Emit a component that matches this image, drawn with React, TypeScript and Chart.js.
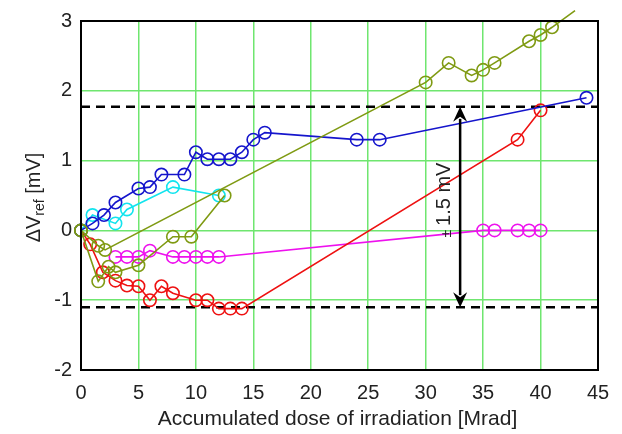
import React, { useEffect, useRef } from "react";
import { Chart, registerables } from "chart.js";

Chart.register(...registerables);

// ---- data ----
const blueX = [0, 1, 2, 3, 5, 6, 7, 9, 10, 11, 12, 13, 14, 15, 16, 24, 26, 44];
const blueY = [0, 0.1, 0.22, 0.4, 0.6, 0.62, 0.8, 0.8, 1.12, 1.02, 1.02, 1.02, 1.12, 1.3, 1.4, 1.3, 1.3, 1.9];

const cyanX = [0, 1, 3, 4, 8, 12];
const cyanY = [0, 0.22, 0.1, 0.3, 0.62, 0.5];

const oliveAX = [0, 1.5, 2.4, 3, 5, 8, 9.6, 12.5];
const oliveAY = [0, -0.73, -0.52, -0.6, -0.5, -0.09, -0.09, 0.5];

const oliveBX = [0, 1.5, 2.1, 30, 32, 34, 35, 36, 39, 40, 41, 43];
const oliveBY = [0, -0.22, -0.28, 2.12, 2.4, 2.22, 2.3, 2.4, 2.71, 2.8, 2.91, 3.15];

const magentaX = [3, 4, 5, 6, 8, 9, 10, 11, 12, 35, 36, 38, 39, 40];
const magentaY = [-0.38, -0.38, -0.38, -0.29, -0.38, -0.38, -0.38, -0.38, -0.38, 0, 0, 0, 0, 0];

const redX = [0, 0.8, 1.9, 3, 4, 5, 6, 7, 8, 10, 11, 12, 13, 14, 38, 40];
const redY = [0, -0.2, -0.6, -0.72, -0.79, -0.8, -1.0, -0.8, -0.9, -1.0, -1.0, -1.12, -1.12, -1.12, 1.3, 1.72];

const limitUpper = 1.77;
const limitLower = -1.1;
const arrowX = 33;
const arrowLabel = "1.5 mV";

const xMin = 0;
const xMax = 45;
const yMin = -2;
const yMax = 3;

const xTitle = "Accumulated dose of irradiation [Mrad]";
const yTitleMain = "\u0394V";
const yTitleSub = "ref";
const yTitleTail = " [mV]";

const FONT = "'Liberation Sans', Arial, sans-serif";

function pts(xs: number[], ys: number[]) {
  return xs.map((x, i) => ({ x, y: ys[i] }));
}

function series(label: string, xs: number[], ys: number[], color: string, order: number, radii?: number[]) {
  return {
    label,
    data: pts(xs, ys),
    borderColor: color,
    backgroundColor: "rgba(0,0,0,0)",
    pointBorderColor: color,
    pointBackgroundColor: "rgba(0,0,0,0)",
    borderWidth: 1.6,
    pointBorderWidth: 1.6,
    pointRadius: radii ?? 6.2,
    pointHoverRadius: 6.2,
    tension: 0,
    order,
    clip: { left: 10, right: 10, top: 12, bottom: 10 },
  };
}

const decorPlugin = {
  id: "decor",
  afterDatasetsDraw(chart: any) {
    const { ctx, chartArea, scales } = chart;
    const xs = scales.x;
    const ys = scales.y;
    ctx.save();
    // frame
    ctx.strokeStyle = "#000";
    ctx.lineWidth = 2;
    ctx.strokeRect(chartArea.left, chartArea.top, chartArea.right - chartArea.left, chartArea.bottom - chartArea.top);

    // arrow
    const ax = xs.getPixelForValue(arrowX);
    const y1 = ys.getPixelForValue(limitUpper);
    const y2 = ys.getPixelForValue(limitLower);
    const head = 15;
    const hw = 7;
    ctx.strokeStyle = "#000";
    ctx.fillStyle = "#000";
    ctx.lineWidth = 2.5;
    ctx.beginPath();
    ctx.moveTo(ax, y1 + head - 3);
    ctx.lineTo(ax, y2 - head + 3);
    ctx.stroke();
    ctx.beginPath();
    ctx.moveTo(ax, y1);
    ctx.lineTo(ax - hw, y1 + head);
    ctx.lineTo(ax, y1 + head - 5);
    ctx.lineTo(ax + hw, y1 + head);
    ctx.closePath();
    ctx.fill();
    ctx.beginPath();
    ctx.moveTo(ax, y2);
    ctx.lineTo(ax - hw, y2 - head);
    ctx.lineTo(ax, y2 - head + 5);
    ctx.lineTo(ax + hw, y2 - head);
    ctx.closePath();
    ctx.fill();

    // arrow label (rotated)
    ctx.translate(ax - 16, (y1 + y2) / 2 - 7);
    ctx.rotate(-Math.PI / 2);
    ctx.fillStyle = "#222";
    ctx.textBaseline = "middle";
    ctx.font = `14px ${FONT}`;
    const pm = "\u00b1 ";
    const pmW = ctx.measureText(pm).width;
    ctx.font = `20px ${FONT}`;
    const lw = ctx.measureText(arrowLabel).width;
    const total = pmW + lw;
    ctx.font = `14px ${FONT}`;
    ctx.fillText(pm, -total / 2, 3);
    ctx.font = `20px ${FONT}`;
    ctx.fillText(arrowLabel, -total / 2 + pmW, 0);
    ctx.restore();

    // axis titles
    ctx.save();
    ctx.fillStyle = "#222";
    ctx.textAlign = "center";
    ctx.textBaseline = "middle";
    ctx.font = `21px ${FONT}`;
    ctx.fillText(xTitle, (chartArea.left + chartArea.right) / 2 - 2, 419);
    ctx.restore();

    ctx.save();
    ctx.fillStyle = "#222";
    ctx.textBaseline = "middle";
    ctx.translate(34, (chartArea.top + chartArea.bottom) / 2 + 2);
    ctx.rotate(-Math.PI / 2);
    ctx.font = `20px ${FONT}`;
    const w1 = ctx.measureText(yTitleMain).width;
    const w3 = ctx.measureText(yTitleTail).width;
    ctx.font = `14px ${FONT}`;
    const w2 = ctx.measureText(yTitleSub).width;
    let sx = -(w1 + w2 + w3) / 2;
    ctx.font = `20px ${FONT}`;
    ctx.fillText(yTitleMain, sx, 0);
    sx += w1;
    ctx.font = `14px ${FONT}`;
    ctx.fillText(yTitleSub, sx, 6);
    sx += w2;
    ctx.font = `20px ${FONT}`;
    ctx.fillText(yTitleTail, sx, 0);
    ctx.restore();
  },
};

export default function App() {
  const ref = useRef<HTMLCanvasElement | null>(null);
  useEffect(() => {
    document.body.style.margin = "0";
    const canvas = ref.current!;
    const oliveRadii = oliveBX.map((_, i) => (i === oliveBX.length - 1 ? 0 : 6.2));
    const chart = new Chart(canvas, {
      type: "line",
      data: {
        datasets: [
          {
            label: "upper limit",
            data: pts([xMin, xMax], [limitUpper, limitUpper]),
            borderColor: "#000",
            borderWidth: 2.5,
            borderDash: [9, 6],
            pointRadius: 0,
            order: 10,
          } as any,
          {
            label: "lower limit",
            data: pts([xMin, xMax], [limitLower, limitLower]),
            borderColor: "#000",
            borderWidth: 2.5,
            borderDash: [9, 6],
            pointRadius: 0,
            order: 10,
          } as any,
          series("magenta", magentaX, magentaY, "#ee11ee", 6),
          series("red", redX, redY, "#ee1111", 5),
          series("cyan", cyanX, cyanY, "#11e4ee", 4),
          series("blue", blueX, blueY, "#1515cc", 3),
          series("oliveB", oliveBX, oliveBY, "#7f9a12", 2, oliveRadii),
          series("oliveA", oliveAX, oliveAY, "#7f9a12", 1),
        ],
      },
      options: {
        animation: false,
        responsive: false,
        maintainAspectRatio: false,
        events: [],
        layout: { padding: { left: 0, right: 24, top: 19, bottom: 0 } },
        plugins: {
          legend: { display: false },
          tooltip: { enabled: false },
          title: { display: false },
        },
        scales: {
          x: {
            type: "linear",
            min: xMin,
            max: xMax,
            afterFit: (s: any) => {
              s.height = 64;
            },
            ticks: {
              stepSize: 5,
              padding: 11,
              color: "#222",
              font: { family: FONT, size: 20 },
              maxRotation: 0,
            },
            grid: { color: "#6fe66f", lineWidth: 1.5, drawTicks: false },
            border: { display: false },
          },
          y: {
            type: "linear",
            min: yMin,
            max: yMax,
            afterFit: (s: any) => {
              s.width = 81;
            },
            ticks: {
              stepSize: 1,
              padding: 9,
              color: "#222",
              font: { family: FONT, size: 20 },
            },
            grid: { color: "#6fe66f", lineWidth: 1.5, drawTicks: false },
            border: { display: false },
          },
        },
      },
      plugins: [decorPlugin],
    } as any);
    return () => chart.destroy();
  }, []);
  return <canvas ref={ref} width={622} height={434} style={{ display: "block", width: 622, height: 434 }} />;
}
